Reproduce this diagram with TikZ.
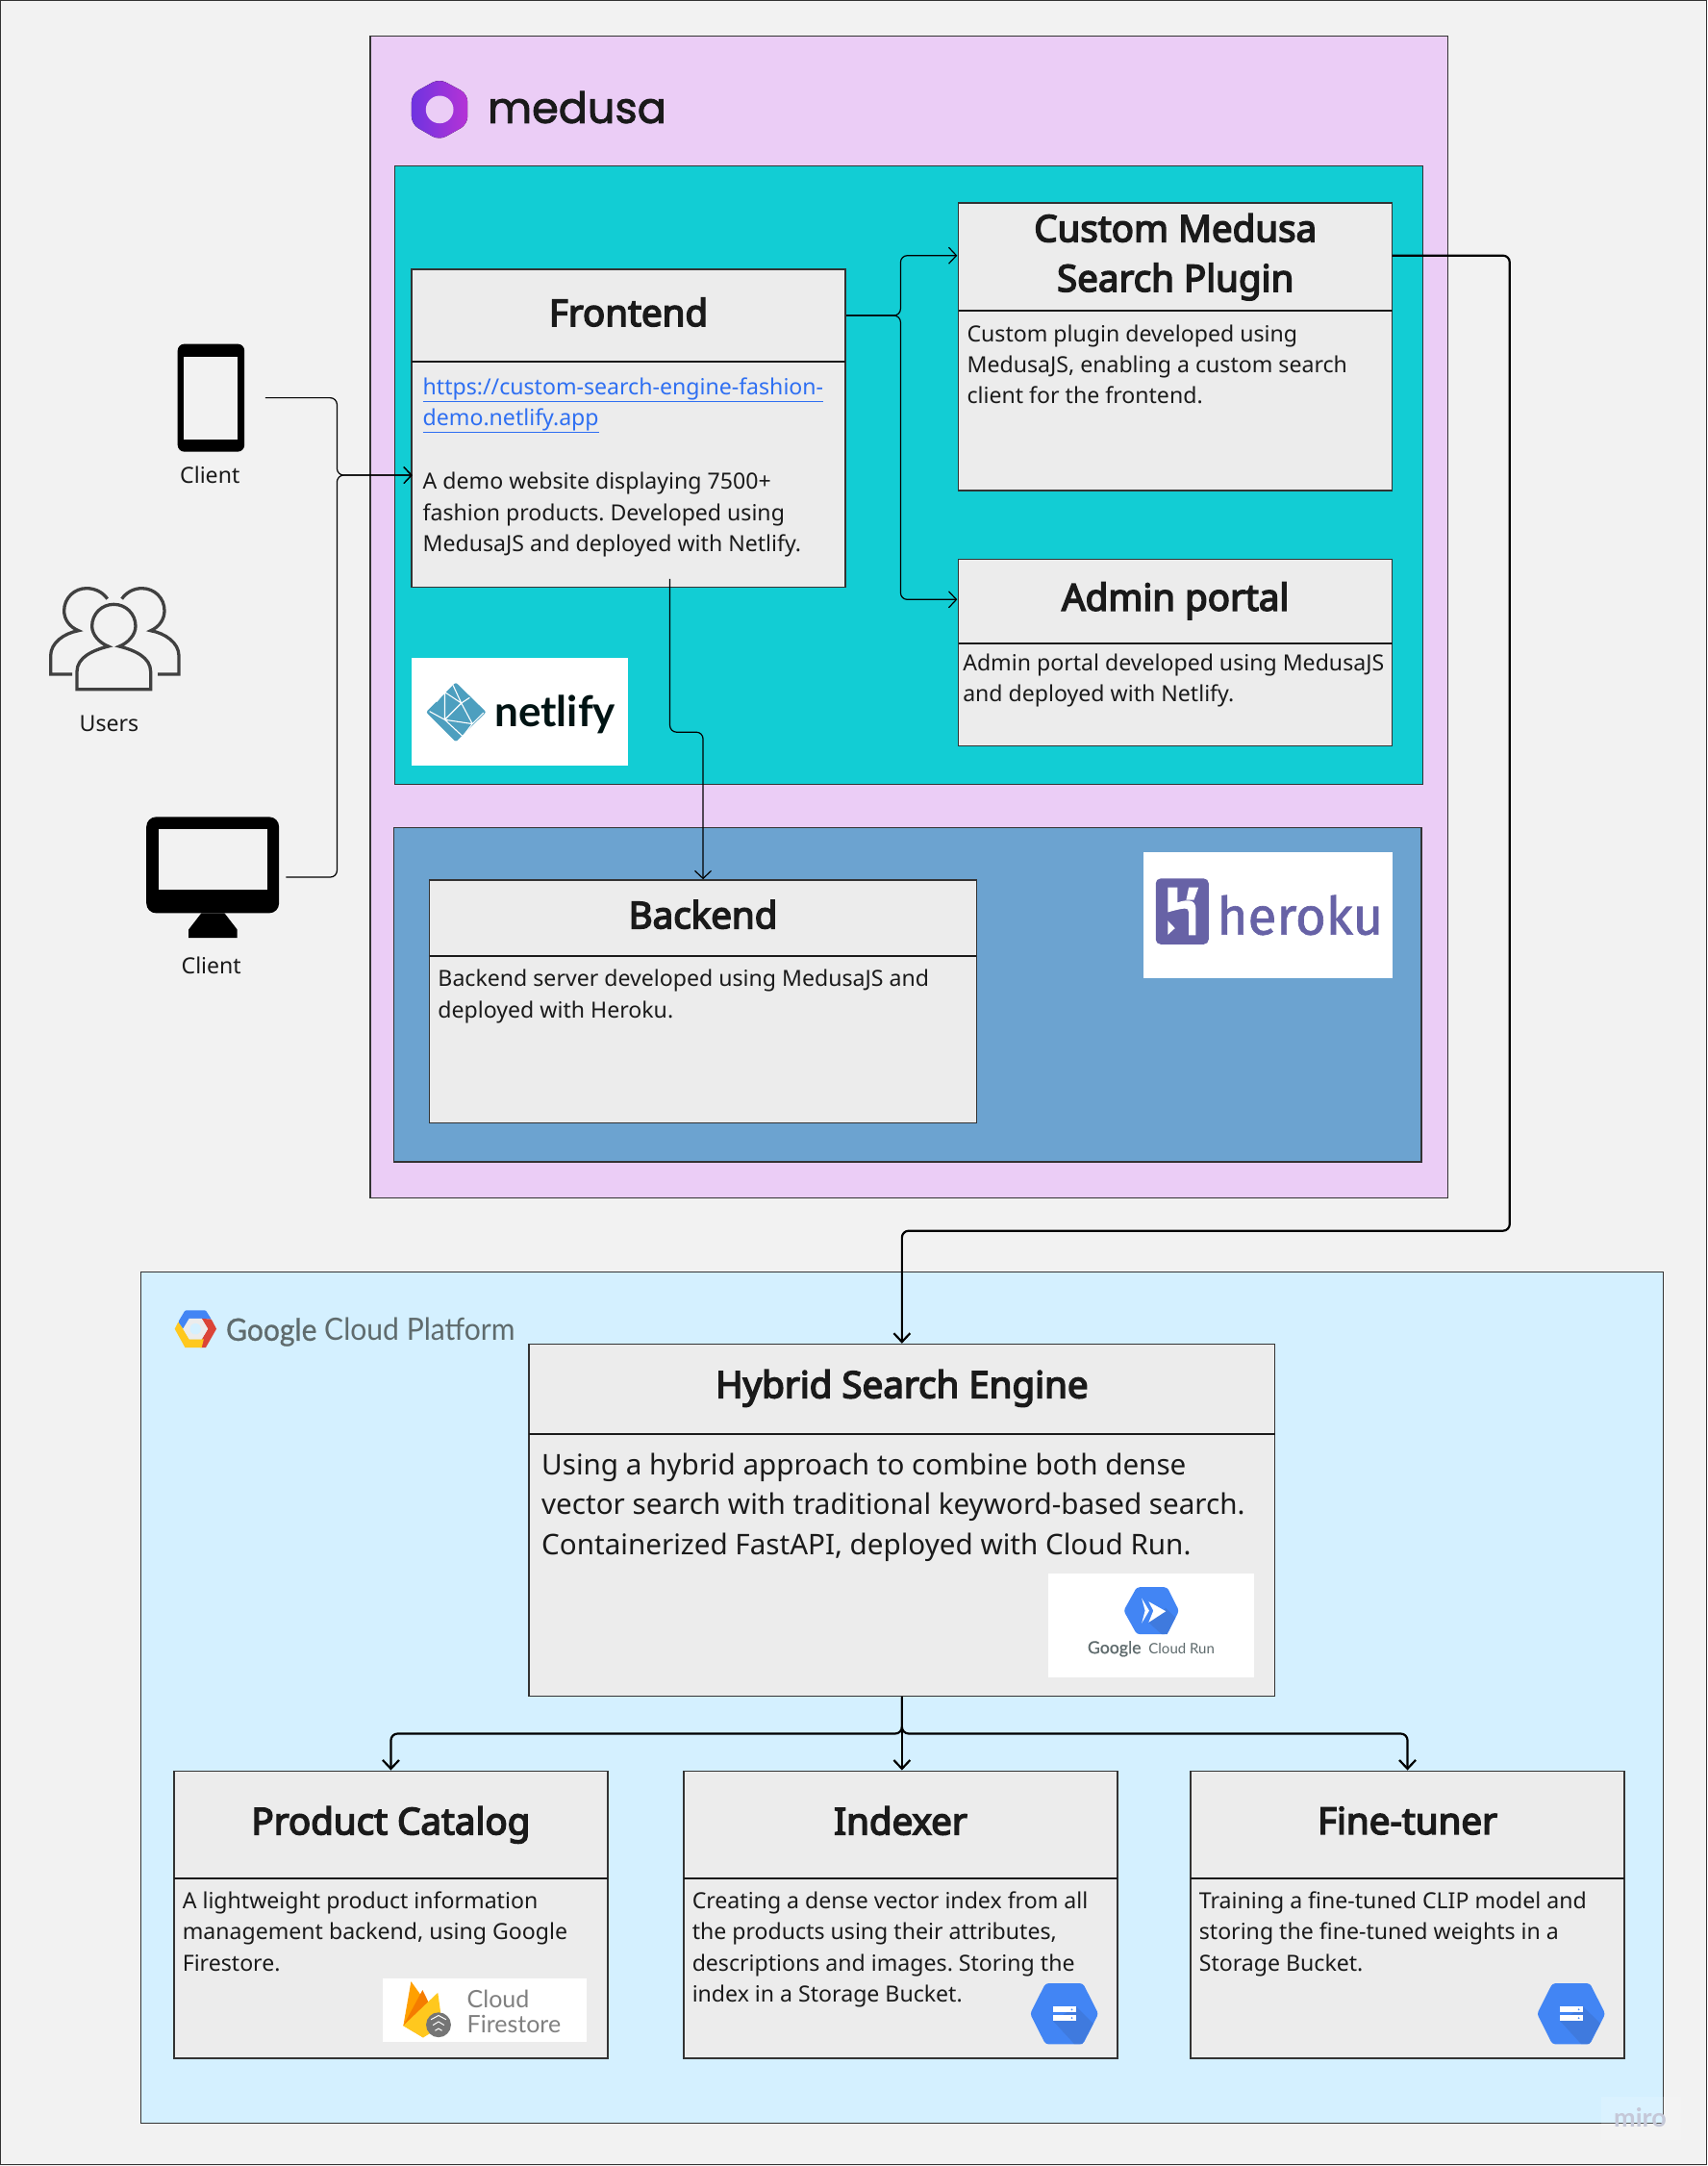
\documentclass[tikz,border=0pt]{standalone}
\usepackage{fontspec}
\usepackage{graphicx}
\setmainfont{Noto Sans}
\newfontfamily\titlef{Noto Sans}[FakeBold=4]
\newfontfamily\medusaf{Poppins}[FakeBold=2]
\newfontfamily\logof{Lato}
\newfontfamily\logoFk{Lato}[FakeBold=0.8]
\newfontfamily\herokuf{Fira Sans}[FakeBold=1.2]
\usetikzlibrary{arrows.meta,fit}
\definecolor{pagebg}{HTML}{F2F2F2}
\definecolor{medusabg}{HTML}{EBCDF6}
\definecolor{tealbg}{HTML}{12CDD4}
\definecolor{bluebg}{HTML}{6CA3D0}
\definecolor{gcpbg}{HTML}{D4F0FF}
\definecolor{cardbg}{HTML}{ECECEC}
\definecolor{inkc}{HTML}{1A1A1A}
\definecolor{edgec}{HTML}{333333}
\definecolor{linkc}{HTML}{2E6FF2}
\definecolor{gblue}{HTML}{4285F4}
\definecolor{gbluedk}{HTML}{3F7ADE}
\definecolor{herokuc}{HTML}{6762A6}
\definecolor{netc}{HTML}{4D9FBF}
\definecolor{gcpgrey}{HTML}{5F6B6D}
\definecolor{HexA}{HTML}{6F33E0}
\definecolor{HexB}{HTML}{B533D6}
\definecolor{HexR}{HTML}{DB4437}
\definecolor{HexY}{HTML}{FFC81E}
\definecolor{HexO}{HTML}{FFA000}
\definecolor{HexD}{HTML}{F57C00}
\definecolor{fsgrey}{HTML}{757575}
\definecolor{HexM}{HTML}{C5C8D8}
\tikzset{
  frame/.style={draw=edgec,line width=1.3pt,inner sep=0pt},
  cardframe/.style={draw=edgec,line width=1.4pt,fill=cardbg,inner sep=0pt},
  sepline/.style={draw=inkc,line width=2.4pt},
  titletext/.style={font=\fontsize{38.5}{51.7}\selectfont\titlef,text=inkc,align=center,inner sep=0pt},
  bodytext/.style={font=\fontsize{23.1}{32.2}\selectfont\frenchspacing,text=inkc,align=left,anchor=north west,inner sep=0pt},
  bigbody/.style={font=\fontsize{29.6}{41.6}\selectfont\frenchspacing,text=inkc,align=left,anchor=north west,inner sep=0pt},
  caption/.style={font=\fontsize{23.1}{28}\selectfont,text=inkc,inner sep=0pt},
  thin link/.style={draw=black,line width=1.2pt,rounded corners=7pt,-{Straight Barb[length=8pt,width=17pt,line width=1.2pt]}},
  thick link/.style={draw=black,line width=2.2pt,rounded corners=7pt,-{Straight Barb[length=9pt,width=17pt,line width=2.2pt]}},
  whitebox/.style={fill=white,inner sep=0pt},
}
\newcommand{\card}[6]{% name x1 y1 ysplit x2 y2
  \node[cardframe,fit={(#2,#3) (#5,#6)}] (#1) {};
  \draw[sepline] (#2,#4) -- (#5,#4);
}
\newcommand{\bucketicon}[2]{%
  \begin{scope}[shift={(#1,#2)}]
    \fill[gblue,rounded corners=3pt] (-24.7,0) -- (-13.6,-22) -- (13.6,-22) -- (24.7,0) -- (13.6,22) -- (-13.6,22) -- cycle;
    \fill[gbluedk] (-8,5.2) -- (7.2,21.8) -- (13,21.8) -- (21,7) -- (8.7,-5.2) -- cycle;
    \fill[white] (-8,-5.2) rectangle (8.7,-1);
    \fill[white] (-8,1) rectangle (8.7,5.2);
    \fill[gblue] (5.5,-3.1) circle (0.7);
    \fill[gblue] (5.5,3.1) circle (0.7);
  \end{scope}
}
\begin{document}
\begin{tikzpicture}[x=1.4361pt,y=-1.4361pt]
\useasboundingbox (0,0) rectangle (1236,1568);
% page
\fill[pagebg] (0,0) rectangle (1236,1568);
\draw[edgec,line width=1.5pt] (0.5,0.5) rectangle (1235.5,1567);
% regions
\node[frame,fill=medusabg,fit={(268,26) (1048,867)}] (medusaframe) {};
\node[frame,fill=tealbg,fit={(286,120) (1030,568)}] (tealframe) {};
\node[frame,fill=bluebg,fit={(285,599) (1029,841)}] (blueframe) {};
\node[frame,fill=gcpbg,fit={(102,921) (1204,1537)}] (gcpframe) {};
% medusa logo
\fill[left color=HexA,right color=HexB,rounded corners=8pt]
  (318,57) -- (338.5,68) -- (338.5,90) -- (318,101.5) -- (298,90) -- (298,68) -- cycle;
\fill[medusabg] (318.3,79.3) circle (10);
\node[font=\fontsize{44.6}{60}\selectfont\medusaf,text=inkc,anchor=base west,inner sep=0pt] (medusalogo) at (353,89) {medusa};
% cards
\card{frontend}{298}{195}{262}{612}{425}
\card{plugin}{694}{147}{225}{1008}{355}
\card{admin}{694}{405}{466}{1008}{540}
\card{backend}{311}{637}{692}{707}{813}
\card{hybrid}{383}{973}{1038}{923}{1228}
\card{catalog}{126}{1282}{1360}{440}{1490}
\card{indexer}{495}{1282}{1360}{809}{1490}
\card{finetuner}{862}{1282}{1360}{1176}{1490}
% titles
\node[titletext] (t1) at (455,226) {Frontend};
\node[titletext] (t2) at (851,186) {Custom Medusa\\Search Plugin};
\node[titletext] (t3) at (851,435) {Admin portal};
\node[titletext] (t4) at (509,662) {Backend};
\node[titletext] (t5) at (653,1005) {Hybrid Search Engine};
\node[titletext] (t6) at (283,1321) {Product Catalog};
\node[titletext] (t7) at (652,1318) {Indexer};
\node[titletext] (t8) at (1019,1318) {Fine-tuner};
% bodies
\node[bodytext,text=linkc] (b1a) at (306,270) {\strut\underline{https://custom-search-engine-fashion-}\\\underline{demo.netlify.app}};
\node[bodytext] (b1b) at (306,338.5) {\strut A demo website displaying 7500+\\fashion products. Developed using\\MedusaJS and deployed with Netlify.};
\node[bodytext] (b2) at (700,231.5) {\strut Custom plugin developed using\\MedusaJS, enabling a custom search\\client for the frontend.};
\node[bodytext] (b3) at (697,470) {\strut Admin portal developed using MedusaJS\\and deployed with Netlify.};
\node[bodytext] (b4) at (317,698.5) {\strut Backend server developed using MedusaJS and\\deployed with Heroku.};
\node[bigbody] (b5) at (392,1047) {\strut Using a hybrid approach to combine both dense\\vector search with traditional keyword-based search.\\Containerized FastAPI, deployed with Cloud Run.};
\node[bodytext] (b6) at (132,1366) {\strut A lightweight product information\\management backend, using Google\\Firestore.};
\node[bodytext] (b7) at (501,1366) {\strut Creating a dense vector index from all\\the products using their attributes,\\descriptions and images. Storing the\\index in a Storage Bucket.};
\node[bodytext] (b8) at (868,1366) {\strut Training a fine-tuned CLIP model and\\storing the fine-tuned weights in a\\Storage Bucket.};
% netlify logo
\node[whitebox,fit={(298,476) (455,554)}] (netlifybox) {};
\fill[netc,rounded corners=2pt] (330,494) -- (352,515.5) -- (330,537) -- (308.5,515.5) -- cycle;
\draw[white,line width=1.1pt] (322,501) -- (334,509) -- (340,505) (334,509) -- (322,521) -- (311,515) (322,521) -- (336,534) (334,509) -- (342,524) -- (350,516) (342,524) -- (332,537) (322,501) -- (322,521) (328,496) -- (334,509) (342,524) -- (322,521) (316,508) -- (322,501);
\node[font=\fontsize{44}{50}\selectfont\bfseries\logof,text=black!85!teal,anchor=base west,inner sep=0pt] (netlifytext) at (358,526) {netlify};
% heroku logo
\node[whitebox,fit={(828,617) (1008,708)}] (herokubox) {};
\begin{scope}[shift={(814.7,605.8)},scale=0.2321]
  \fill[herokuc,rounded corners=5pt] (95,130) rectangle (260,335);
  \fill[white] (133,158) -- (163,158) -- (163,205) .. controls (185,197) and (220,190) .. (220,225) -- (220,307) -- (198,307) -- (198,235) .. controls (198,218) and (180,222) .. (133,235) -- cycle;
  \fill[white] (198,158) -- (228,158) -- (214,197) -- (190,197) -- cycle;
  \fill[white] (133,262) -- (155,285) -- (133,305) -- cycle;
\end{scope}
\node[font=\fontsize{54.7}{60}\selectfont\herokuf,text=herokuc,anchor=base west,inner sep=0pt] (herokutext) at (881,676.5) {heroku};
% GCP logo
\fill[gblue,rounded corners=1pt] (129,957) -- (134,948.6) -- (149,948.6) -- (153,955) -- (146,954.5) -- (137,954.5) -- (132.5,962) -- cycle;
\fill[HexR] (153,955) -- (156.7,962) -- (149,975.5) -- (145,975.5) -- (146,969.5) -- (150.5,962) -- (146,954.5) -- cycle;
\fill[HexY] (129,957) -- (126.5,962) -- (134,975.5) -- (146,975.5) -- (147.5,969.5) -- (137,969.5) -- (132.5,962) -- cycle;
\fill[cardbg] (132.5,962) -- (137,954.5) -- (146,954.5) -- (150.5,962) -- (146,969.5) -- (137,969.5) -- cycle;
\fill[gcpbg] (141.5,962) circle (4);
\node[font=\fontsize{32}{40}\selectfont\logof,text=gcpgrey,anchor=base west,inner sep=0pt] (gcptext) at (163.5,970.5) {\scalebox{0.94}[1]{{\logoFk Google} Cloud Platform}};
% Cloud Run logo
\node[whitebox,fit={(759,1139) (908,1214)}] (runbox) {};
\fill[gblue,rounded corners=3pt] (813.5,1166) -- (823,1149) -- (845,1149) -- (853.6,1166) -- (845,1183) -- (823,1183) -- cycle;
\fill[gbluedk] (831.6,1174.5) -- (841,1183) -- (845,1183) -- (851,1171) -- (844,1164) -- cycle;
\fill[white] (831.6,1159.4) -- (844,1166.4) -- (831.6,1174.5) -- (835,1166) -- cycle;
\fill[white] (826.6,1157) -- (832,1166) -- (826.6,1175) -- (829,1166) -- cycle;
\node[font=\fontsize{17.7}{18}\selectfont\logoFk,text=gcpgrey,anchor=base west,inner sep=0pt] (rung) at (787.3,1197) {Google};
\node[font=\fontsize{15}{18}\selectfont\logof,text=gcpgrey,anchor=base west,inner sep=0pt] (runt) at (831.5,1197) {Cloud Run};
% Firestore logo
\node[whitebox,fit={(277,1432) (425,1478)}] (firebox) {};
\fill[HexO] (297.6,1434.4) -- (292,1466.4) -- (306.4,1475) -- (316,1460) -- cycle;
\fill[HexD] (292,1466.4) -- (305.9,1440.6) -- (312,1453) -- (300,1465) -- cycle;
\fill[HexY] (292,1466.4) -- (317,1442.5) -- (320.3,1466.4) -- (306.4,1475) -- cycle;
\fill[fsgrey] (317.5,1465.8) circle (9);
\draw[white,line width=1pt] (312,1462) -- (317.5,1459) -- (323,1462) (313.5,1466) -- (317.5,1463.5) -- (321.5,1466) (315,1470) -- (317.5,1468.5) -- (320,1470);
\node[font=\fontsize{25}{26}\selectfont\logof,text=black!50,anchor=west,inner sep=0pt] (firea) at (338,1447) {Cloud};
\node[font=\fontsize{25}{26}\selectfont\logof,text=black!50,anchor=west,inner sep=0pt] (fireb) at (338,1465) {Firestore};
% bucket icons
\bucketicon{770.5}{1457.8}
\bucketicon{1137.5}{1457.8}
% client phone
\node[fit={(128.6,249) (177,327)},fill=black,rounded corners=7pt,inner sep=0pt] (phone) {};
\fill[pagebg] (132.7,258.6) rectangle (172,318);
\node[caption] (c1) at (152,344) {Client};
% users icon
\begin{scope}[shift={(27.85,410.8)},scale=0.2321,draw=black!75,line width=3.3pt]
  \draw (120,380) -- (120,325) .. controls (120,280) and (170,258) .. (218,246) .. controls (190,235) and (167,210) .. (167,183) .. controls (167,145) and (197,115) .. (235,115) .. controls (273,115) and (303,145) .. (303,183) .. controls (303,210) and (280,235) .. (252,246) .. controls (300,258) and (350,280) .. (350,325) -- (350,380) -- cycle;
  \draw (105,333) -- (38,333) -- (38,275) .. controls (38,235) and (80,205) .. (125,197) .. controls (95,185) and (80,160) .. (80,135) .. controls (80,95) and (112,65) .. (150,65) .. controls (180,65) and (203,80) .. (215,98);
  \draw (372,333) -- (438,333) -- (438,275) .. controls (438,235) and (395,205) .. (350,197) .. controls (378,185) and (393,160) .. (393,135) .. controls (393,95) and (362,65) .. (322,65) .. controls (295,65) and (272,80) .. (260,98);
\end{scope}
\node[caption] (c2) at (79,524) {Users};
% client desktop
\node[fit={(106,591.4) (202,661)},fill=black,rounded corners=10pt,inner sep=0pt] (desktop) {};
\fill[pagebg] (114.7,600.3) rectangle (193.4,643.7);
\fill[black] (145.8,661) -- (162.5,661) -- (171.8,673) -- (171.8,679) -- (136.5,679) -- (136.5,673) -- cycle;
\node[caption] (c3) at (153,699) {Client};
% connector anchors
\coordinate (phoneout) at (192,288);
\coordinate (deskout) at (207,635);
\coordinate (frontin) at (298.5,344);
\coordinate (frontout) at (612.8,228.4);
\coordinate (pluginin) at (693,185);
\coordinate (adminin) at (693,434);
\coordinate (frontdown) at (485,419);
\coordinate (pluginout) at (1008,185);
\coordinate (hubdown) at (653,1255);
% connectors
\draw[thin link] (phoneout) -- (244,288) -- (244,344) -- (frontin);
\draw[thin link] (deskout) -- (244,635) -- (244,344) -- (frontin);
\draw[thin link] (frontout) -- (652,228.4) -- (652,185) -- (pluginin);
\draw[thin link] (frontout) -- (652,228.4) -- (652,434) -- (adminin);
\draw[thin link] (frontdown) -- (485,530) -- (509,530) -- (backend.north);
\draw[thick link] (pluginout) -- (1093,185) -- (1093,891) -- (653,891) -- (hybrid.north);
\draw[thick link] (hybrid.south) -- (hubdown) -- (283,1255) -- (catalog.north);
\draw[thick link] (hybrid.south) -- (hybrid.south |- indexer.north);
\draw[thick link] (hybrid.south) -- (hubdown) -- (1019,1255) -- (finetuner.north);
% watermark
\fill[white,opacity=0.15] (1159,1518) rectangle (1217,1549);
\node[font=\fontsize{27}{28}\selectfont\bfseries\logof,text=HexM,anchor=center,inner sep=0pt] (miro) at (1187.5,1533) {miro};
\end{tikzpicture}
\end{document}
